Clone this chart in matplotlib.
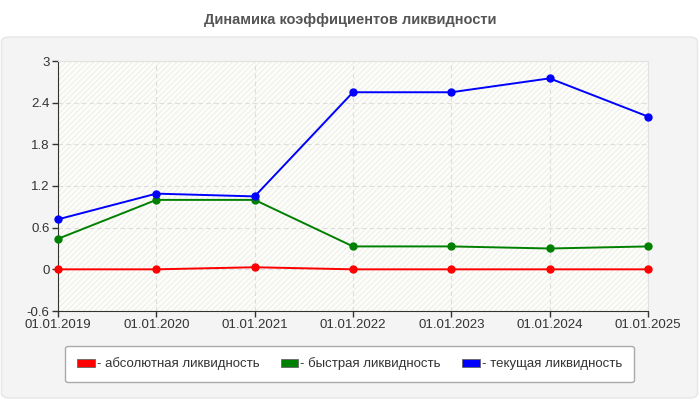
import matplotlib
matplotlib.use('Agg')
import matplotlib.pyplot as plt
from matplotlib.patches import FancyBboxPatch, Rectangle, Patch

plt.rcParams['font.family'] = ['Liberation Sans', 'DejaVu Sans']

dates = ['01.01.2019', '01.01.2020', '01.01.2021', '01.01.2022',
         '01.01.2023', '01.01.2024', '01.01.2025']
absolute = [0.0, 0.0, 0.03, 0.0, 0.0, 0.0, 0.0]
quick = [0.44, 1.0, 1.0, 0.33, 0.33, 0.30, 0.33]
current = [0.72, 1.09, 1.05, 2.55, 2.55, 2.75, 2.20]

series = [
    ('- абсолютная ликвидность', absolute, '#ff0000'),
    ('- быстрая ликвидность', quick, '#008000'),
    ('- текущая ликвидность', current, '#0000ff'),
]
yticks = [-0.6, 0, 0.6, 1.2, 1.8, 2.4, 3]

fig = plt.figure(figsize=(7, 4), dpi=100)
fig.patch.set_facecolor('white')

# outer gray panel
panel = FancyBboxPatch((1.5 / 700, 2 / 400), 696 / 700, 361 / 400,
                       boxstyle='round,pad=0,rounding_size=0.012',
                       transform=fig.transFigure, facecolor='#f4f4f4',
                       edgecolor='#e6e6e6', linewidth=1, zorder=-5)
fig.patches.append(panel)

fig.text(0.5, 1 - 20 / 400, 'Динамика коэффициентов ликвидности',
         ha='center', va='center', fontsize=10.5, fontweight='bold', color='#555555')

ax = fig.add_axes([58 / 700, 1 - 311 / 400, 590 / 700, 250 / 400])
ax.set_zorder(2)
ax.set_facecolor('#fdfdf9')
ax.add_patch(Rectangle((0, 0), 1, 1, transform=ax.transAxes, facecolor='none',
                       hatch='//////', edgecolor='#f0f0ec', linewidth=0, zorder=0))

x = list(range(len(dates)))
for label, vals, color in series:
    ax.plot(x, vals, color=color, linewidth=1.4, marker='o', markersize=5,
            label=label, zorder=3, clip_on=False)

ax.set_xlim(0, len(dates) - 1)
ax.set_ylim(-0.6, 3)
ax.set_xticks(x)
ax.set_xticklabels(dates)
ax.set_yticks(yticks)
ax.set_yticklabels(['-0.6', '0', '0.6', '1.2', '1.8', '2.4', '3'])
ax.grid(True, color='#dddddd', linestyle=(0, (4, 3)), linewidth=0.8)
ax.set_axisbelow(True)
for s in ['top', 'right']:
    ax.spines[s].set_color('#e2e2e2')
for s in ['left', 'bottom']:
    ax.spines[s].set_color('#333333')
ax.tick_params(colors='#333333', labelsize=9.5, length=4, width=1)
ax.tick_params(axis='x', pad=2)
ax.tick_params(axis='y', pad=2)

handles = [Patch(facecolor=c, edgecolor='#666666', linewidth=0.6) for _, _, c in series]
leg = fig.legend(handles, [s[0] for s in series], loc='center',
                 bbox_to_anchor=(349.5 / 700, 1 - 364 / 400), ncol=3,
                 frameon=True, fontsize=9.5, handlelength=1.35, handleheight=0.55,
                 handletextpad=0.15, columnspacing=1.6, borderpad=0.9, fancybox=True)
leg.set_zorder(3)
leg.get_frame().set_facecolor('white')
leg.get_frame().set_edgecolor('#aaaaaa')
leg.get_frame().set_alpha(1)
for t in leg.get_texts():
    t.set_color('#333333')

fig.savefig('out.png', dpi=100)
